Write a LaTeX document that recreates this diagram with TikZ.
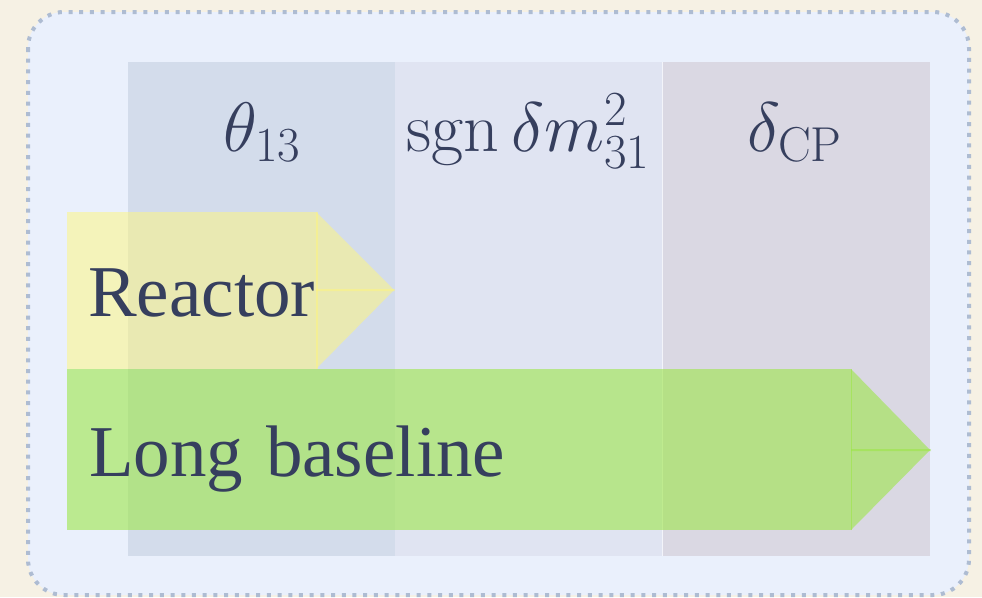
\RequirePackage{fix-cm}
\documentclass[tikz,border=0pt]{standalone}
\usepackage{amsmath}
\usepackage{fontspec}
\newfontfamily\timesf[WordSpace=1.25]{Liberation Serif}
\definecolor{pagebg}{HTML}{F6F1E4}
\definecolor{panelbg}{HTML}{EAF0FC}
\definecolor{panelline}{HTML}{AEBCD2}
\definecolor{colA}{HTML}{D3DCEB}
\definecolor{colB}{HTML}{E0E4F2}
\definecolor{colC}{HTML}{DAD8E3}
\definecolor{ink}{HTML}{363F5E}
\definecolor{yel}{HTML}{FFF67A}
\definecolor{grn}{HTML}{9DE648}
\begin{document}
\begin{tikzpicture}[x=1pt,y=-1pt,
  mathlbl/.style={text=ink, font=\fontsize{70}{84}\selectfont, anchor=base, inner sep=0pt},
  txtlbl/.style={text=ink, font=\timesf\fontsize{73}{86}\selectfont, anchor=base west, inner sep=0pt},
  yfill/.style={fill=yel, fill opacity=0.5, draw=none},
  gfill/.style={fill=grn, fill opacity=0.6, draw=none}]
\useasboundingbox (0,0) rectangle (982,597);
\fill[pagebg] (0,0) rectangle (982,597);
\draw[panelline, fill=panelbg, line width=4pt, dash pattern=on 4pt off 6.7pt, rounded corners=36pt]
  (28,12) rectangle (969,595);
% columns
\fill[colA] (128,62) rectangle (395,556);
\fill[colB] (395,62) rectangle (662,556);
\fill[colC] (662,62) rectangle (930,556);
\draw[white!60!colB, line width=1pt] (662,62) -- (662,556);
% column labels
\node[mathlbl] (th) at (262,151) {$\theta_{13}$};
\node[mathlbl] (sg) at (528,151) {$\operatorname{sgn}\delta m^2_{31}$};
\node[mathlbl] (cp) at (795,151) {$\delta_{\mathrm{CP}}$};
% reactor arrow
\fill[yfill] (67,212) rectangle (318,369);
\fill[yfill] (316,212) -- (395,291) -- (316,291) -- cycle;
\fill[yfill] (316,289) -- (395,289) -- (316,369) -- cycle;
% long baseline arrow
\fill[gfill] (67,369) rectangle (852,530);
\fill[gfill] (851,369) -- (931,451) -- (851,451) -- cycle;
\fill[gfill] (851,449) -- (931,449) -- (851,530) -- cycle;
% labels
\node[txtlbl] (re) at (88,316) {Reactor};
\node[txtlbl] (lb) at (89,476) {Long baseline};
\end{tikzpicture}
\end{document}
